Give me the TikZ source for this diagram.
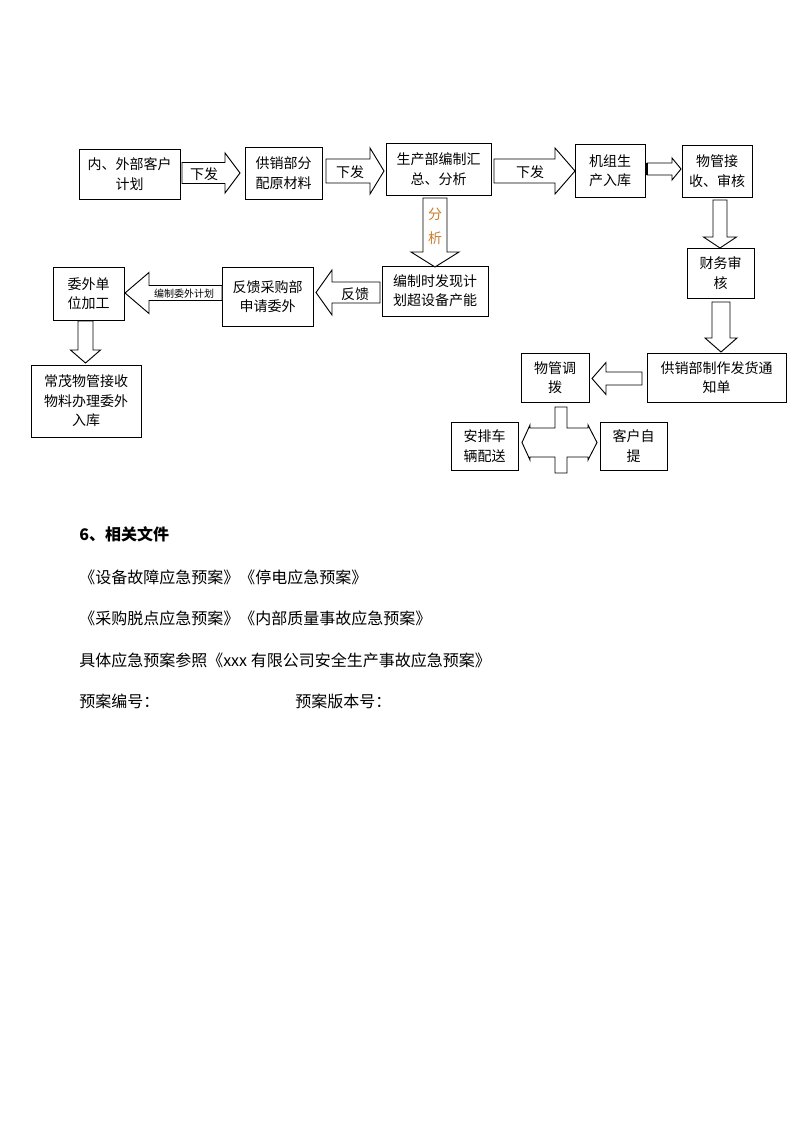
\documentclass[tikz,border=0pt]{standalone}
\usepackage{fontspec}
\setmainfont{Noto Sans CJK SC}
\definecolor{lblorange}{RGB}{205,125,45}
\tikzset{
  box/.style={draw, line width=0.7pt, inner sep=0pt, align=center, font=\fontsize{10.5}{14.5}\selectfont},
  blk/.style={draw, line width=0.7pt, fill=white, line join=miter},
  lbl/.style={inner sep=0pt, font=\fontsize{10.5}{12}\selectfont},
  smlbl/.style={inner sep=0pt, font=\fontsize{7.5}{9}\selectfont},
  body/.style={inner sep=0pt, anchor=west, font=\fontsize{12}{14}\selectfont},
}
% box: name, x1, y1, x2, y2, text
\newcommand\bx[6]{\node[box, minimum width={(#4-#2)*0.75pt}, minimum height={(#5-#3)*0.75pt}] (#1) at ({(#2+#4)/2},{(#3+#5)/2}) {#6};}
% right block arrow: x0, xb, xt, yc, shaft half, head half
\newcommand\rar[6]{\draw[blk] (#1,#4-#5) -- (#2,#4-#5) -- (#2,#4-#6) -- (#3,#4) -- (#2,#4+#6) -- (#2,#4+#5) -- (#1,#4+#5) -- cycle;}
% left block arrow: x0, xb, xt, yc, shaft half, head half
\newcommand\lar[6]{\draw[blk] (#1,#4-#5) -- (#2,#4-#5) -- (#2,#4-#6) -- (#3,#4) -- (#2,#4+#6) -- (#2,#4+#5) -- (#1,#4+#5) -- cycle;}
% down block arrow: xc, y0, yb, yt, shaft half, head half
\newcommand\dar[6]{\draw[blk] (#1-#5,#2) -- (#1-#5,#3) -- (#1-#6,#3) -- (#1,#4) -- (#1+#6,#3) -- (#1+#5,#3) -- (#1+#5,#2) -- cycle;}
\begin{document}
\begin{tikzpicture}[x=0.75pt, y=-0.75pt]
\useasboundingbox[fill=white] (0,0) rectangle (794,1123);

% ---- boxes ----
\bx{b1}{79}{149}{180}{199}{内、外部客户\\计划}
\bx{b2}{245}{147}{322}{199}{供销部分\\配原材料}
\bx{b3}{386}{143}{491}{195}{生产部编制汇\\总、分析}
\bx{b4}{575}{144}{645}{197}{机组生\\产入库}
\bx{b5}{682}{145}{752}{197}{物管接\\收、审核}
\bx{b6}{687}{248}{754}{298}{财务审\\核}
\bx{b7}{647}{353}{786}{402}{供销部制作发货通\\知单}
\bx{b8}{521}{353}{589}{402}{物管调\\拨}
\bx{b9}{451}{422}{518}{470}{安排车\\辆配送}
\bx{b10}{600}{422}{667}{470}{客户自\\提}
\bx{b11}{382}{266}{488}{316}{编制时发现计\\划超设备产能}
\bx{b12}{222}{267}{313}{326}{反馈采购部\\申请委外}
\bx{b13}{53}{267}{124}{320}{委外单\\位加工}
\bx{b14}{31}{365}{141}{437}{常茂物管接收\\物料办理委外\\入库}

% ---- block arrows ----
\rar{182}{225}{240}{173}{10.5}{20}
\node[lbl] (l1) at (204,174) {下发};
\rar{326}{370}{384}{171}{12}{23}
\node[lbl] (l2) at (350,172) {下发};
\rar{494}{555}{575}{171}{12}{23}
\node[lbl] (l3) at (530,172) {下发};
\rar{647}{672}{681}{169}{6}{11}
\draw[line width=1.3pt] (647.3,163) -- (647.3,175);

\dar{435}{198}{252}{267}{12}{24}
\node[lbl, text=lblorange] (l4a) at (435,214) {分};
\node[lbl, text=lblorange] (l4b) at (435,238) {析};

\dar{720}{200}{237}{248}{7}{16.5}
\dar{721}{302}{338}{352}{9}{16}

\lar{380}{332}{316}{292.5}{10.5}{22.5}
\node[lbl] (l5) at (355,294) {反馈};
\lar{222}{149}{125}{293}{7.5}{20.5}
\node[smlbl] (l6) at (184,294) {编制委外计划};
\dar{85.5}{321}{350}{363}{7.5}{15}

\lar{642}{606}{592}{378.5}{6.5}{16}

% cross between 物管调拨 / 安排车辆配送 / 客户自提
\draw[blk] (555,407) -- (567,407) -- (567,428) -- (588,428) -- (588,425) -- (597,442.5)
  -- (588,460) -- (588,457) -- (567,457) -- (567,473) -- (555,473) -- (555,457)
  -- (530,457) -- (530,460) -- (522,442.5) -- (530,425) -- (530,428) -- (555,428) -- cycle;

% ---- body text ----
\node[body, font=\fontsize{12}{14}\selectfont\bfseries] (t1) at (79,534) {6、相关文件};
\node[body] (t2) at (79,577) {《设备故障应急预案》《停电应急预案》};
\node[body] (t3) at (79,618) {《采购脱点应急预案》《内部质量事故应急预案》};
\node[body] (t4) at (79,660) {具体应急预案参照《xxx 有限公司安全生产事故应急预案》};
\node[body] (t5) at (79,701) {预案编号：};
\node[body] (t6) at (295,701) {预案版本号：};
\end{tikzpicture}
\end{document}
